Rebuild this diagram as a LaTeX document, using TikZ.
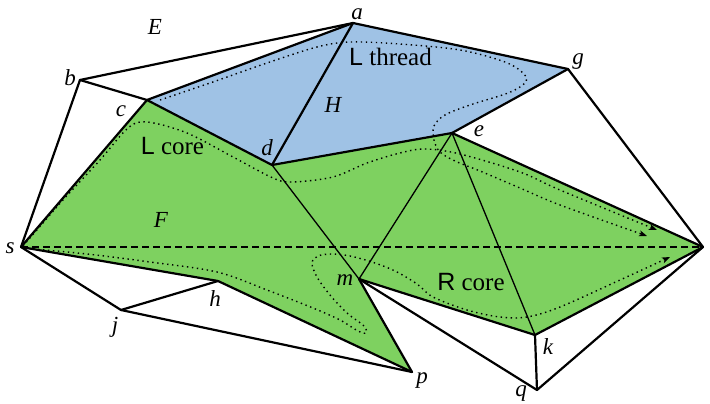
\documentclass[tikz,border=0pt]{standalone}
\usepackage{fontspec}
\setmainfont{Liberation Serif}
\newfontfamily\sansfam{Liberation Sans}
\usetikzlibrary{arrows.meta}
\definecolor{coregreen}{RGB}{126,209,96}
\definecolor{threadblue}{RGB}{159,194,229}
\tikzset{
  edge/.style={line width=2.2pt, line cap=round},
  thinedge/.style={line width=1.3pt, line cap=round},
  dashline/.style={line width=1.4pt, dash pattern=on 7pt off 4pt},
  dotpath/.style={line width=1.4pt, dash pattern=on 1.4pt off 3.6pt, -{Stealth[length=8pt,width=6pt,inset=2pt]}},
  vlabel/.style={anchor=base, inner sep=0pt, font=\fontsize{23}{27}\selectfont\itshape},
  rlabel/.style={anchor=base, inner sep=0pt, font=\fontsize{25}{29}\selectfont},
}
\begin{document}
\begin{tikzpicture}[x=1pt,y=-1pt]
\useasboundingbox (0,0) rectangle (710,404);
% vertices
\coordinate (a) at (353,23);
\coordinate (b) at (80,80);
\coordinate (c) at (147,100);
\coordinate (d) at (272,165);
\coordinate (e) at (452,133);
\coordinate (g) at (568,69);
\coordinate (s) at (21,247);
\coordinate (t) at (703,247);
\coordinate (m) at (359,279);
\coordinate (h) at (218,281);
\coordinate (j) at (121,310);
\coordinate (p) at (412,372);
\coordinate (k) at (535,335);
\coordinate (q) at (537,390);
% regions
\fill[coregreen] (s)--(c)--(d)--(e)--(t)--(k)--(m)--(p)--(h)--cycle;
\fill[threadblue] (c)--(a)--(g)--(e)--(d)--cycle;
% dashed s-t
\draw[dashline] (s)--(t);
% dotted paths
\draw[dotpath] plot[smooth, tension=0.55] coordinates {(160,100) (210,83) (267,63) (317,47) (350,42) (400,44) (460,50) (505,62) (524,74) (525,83) (508,93) (470,105) (445,115) (434,126) (434,140) (440,152) (455,161) (480,171) (520,188) (560,205) (647,236)};
\draw[dotpath] plot[smooth, tension=0.55] coordinates {(23,246) (63,200) (100,160) (128,128) (147,122) (187,133) (233,157) (273,178) (292,182) (333,177) (367,163) (400,153) (425,149) (460,154) (520,172) (560,190) (657,230)};
\draw[dotpath] plot[smooth, tension=0.55] coordinates {(23,248) (87,254) (150,262) (217,272) (267,290) (313,308) (340,320) (358,331) (366,333) (364,326) (347,313) (330,295) (317,277) (312,263) (318,256) (332,254) (350,256) (372,262) (395,271) (417,284) (433,297) (467,310) (500,317) (527,317) (560,307) (620,280) (670,257)};
% thin interior edges
\draw[thinedge] (d)--(m);
\draw[thinedge] (e)--(m);
\draw[thinedge] (e)--(k);
% thick edges
\foreach \u/\v in {s/c,c/d,d/e,e/t,t/k,k/m,m/p,p/h,h/s,c/a,a/g,g/e,a/d,s/b,b/a,b/c,g/t,s/j,j/h,j/p,m/q,q/k,q/t}
  \draw[edge] (\u)--(\v);
% vertex labels
\node[vlabel] (la) at (357,20) {a};
\node[vlabel] (lE) at (155,35) {E};
\node[vlabel] (lb) at (70,86) {b};
\node[vlabel] (lc) at (121,117) {c};
\node[vlabel] (ld) at (267,155) {d};
\node[vlabel] (lH) at (333,112) {H};
\node[vlabel] (lg) at (578,65) {g};
\node[vlabel] (le) at (479,136) {e};
\node[vlabel] (lF) at (161,227) {F};
\node[vlabel] (ls) at (10,253) {s};
\node[vlabel] (lt) at (715,253) {t};
\node[vlabel] (lm) at (345,285) {m};
\node[vlabel] (lh) at (215,306) {h};
\node[vlabel] (lj) at (115,332) {j};
\node[vlabel] (lk) at (548,354) {k};
\node[vlabel] (lp) at (422,383) {p};
\node[vlabel] (lq) at (521,396) {q};
% region labels
\node[rlabel] (lthread) at (390.5,66) {{\sansfam L} thread};
\node[rlabel] (lcore) at (172.5,154) {{\sansfam L} core};
\node[rlabel] (rcore) at (471,290) {{\sansfam R} core};
\end{tikzpicture}
\end{document}
